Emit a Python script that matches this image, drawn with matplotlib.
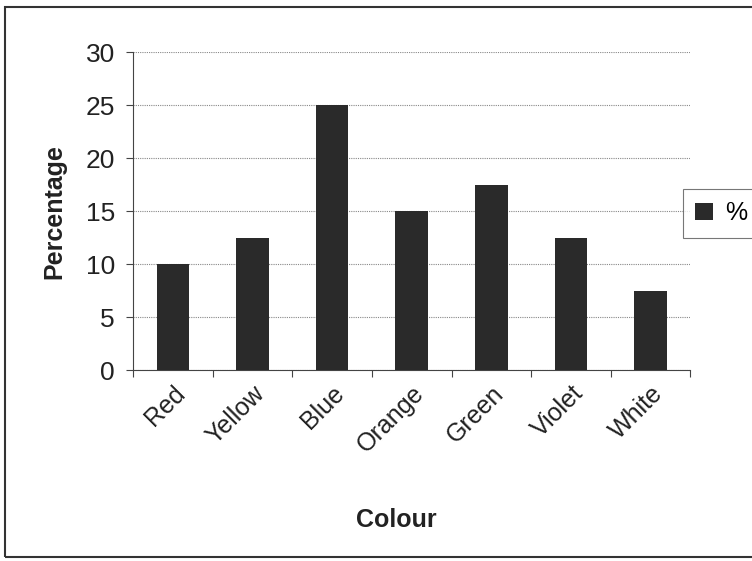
import matplotlib.pyplot as plt
from matplotlib.patches import Rectangle

colours = ["Red", "Yellow", "Blue", "Orange", "Green", "Violet", "White"]
percent = [10, 12.5, 25, 15, 17.5, 12.5, 7.5]

plt.rcParams['font.family'] = ['Liberation Sans', 'DejaVu Sans']

fig = plt.figure(figsize=(7.52, 5.61), dpi=100)
ax = fig.add_axes([0.177, 0.34, 0.741, 0.567])

x = range(len(colours))
ax.bar(x, percent, width=0.41, color="#2a2a2a", label="%", zorder=3)

ax.set_xlim(-0.5, len(colours) - 0.5)
ax.set_ylim(0, 30)
ax.set_yticks(range(0, 31, 5))
ax.yaxis.grid(True, color="#888888", linestyle=(0, (1, 1)), linewidth=0.8, zorder=0)
ax.set_xticks([i - 0.5 for i in range(len(colours) + 1)])
ax.set_xticklabels([])
ax.set_xticks(list(x), minor=True)
ax.set_xticklabels(colours, minor=True, rotation=45, ha="right", rotation_mode="anchor",
                   fontsize=18, color="#222222")
ax.tick_params(axis="x", which="minor", length=0, pad=8)
ax.tick_params(axis="x", which="major", length=5, direction="out", color="#444444")
ax.tick_params(axis="y", labelsize=19, length=5, pad=8, color="#444444", labelcolor="#222222")

for s in ["top", "right"]:
    ax.spines[s].set_visible(False)
for s in ["left", "bottom"]:
    ax.spines[s].set_color("#444444")

ax.set_ylabel("Percentage", fontsize=18, fontweight="bold", labelpad=14, color="#222222")
fig.text(0.5266, 0.073, "Colour", fontsize=18, fontweight="bold", ha="center", va="center",
         color="#222222")

leg = fig.legend(loc="center left", bbox_to_anchor=(0.908, 0.62), fontsize=18,
                 frameon=True, fancybox=False, handlelength=0.7, handleheight=0.7,
                 handletextpad=0.5, borderpad=0.5, borderaxespad=0, edgecolor="#555555")
leg.get_frame().set_linewidth(0.8)

fig.patches.append(Rectangle((0.007, 0.008), 1.1, 0.98, transform=fig.transFigure,
                             fill=False, edgecolor="#333333", linewidth=1.5))

fig.savefig("out.png", dpi=100)
